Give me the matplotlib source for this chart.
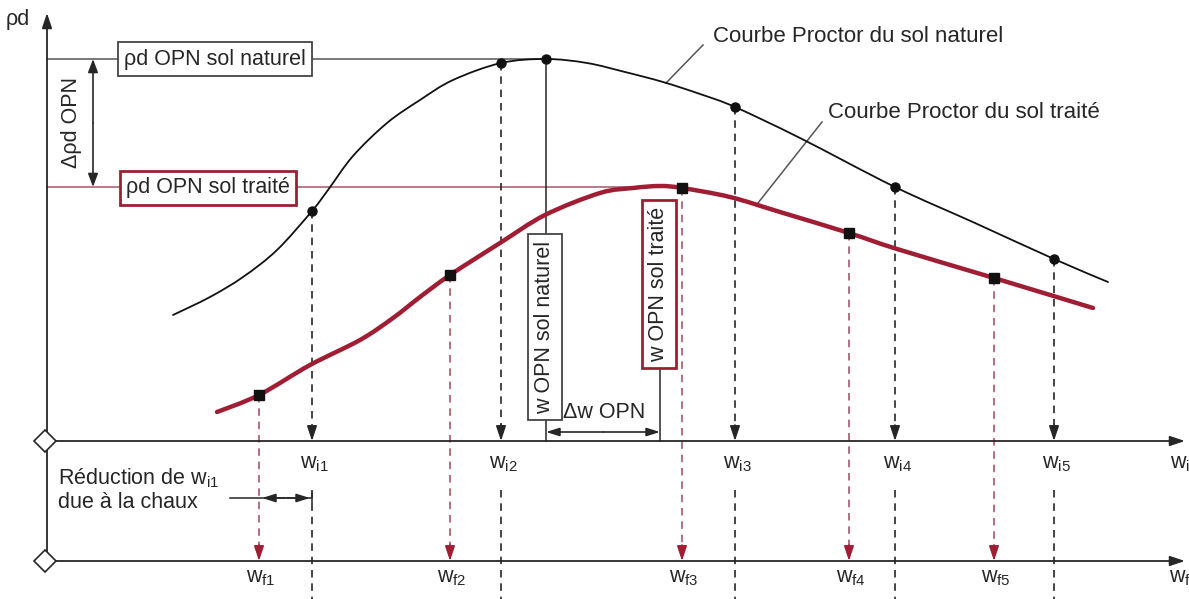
import matplotlib.pyplot as plt
from matplotlib.path import Path
from matplotlib.patches import PathPatch

plt.rcParams['font.family'] = ['Liberation Sans', 'DejaVu Sans']
plt.rcParams['mathtext.fontset'] = 'custom'
plt.rcParams['mathtext.rm'] = 'Liberation Sans'
plt.rcParams['mathtext.it'] = 'Liberation Sans:italic'

# courbe Proctor du sol naturel (w, rho_d) - unites schematiques
w_nat = [126, 163, 196, 230, 265, 281, 306, 340, 373, 406, 454, 499,
         540, 578, 616, 653, 688, 753, 848, 928, 1007, 1061]
rho_nat = [126, 144, 164, 191, 230, 251, 285, 318, 341, 361, 378, 382,
           378, 369, 359, 347, 334, 303, 254, 218, 182, 159]
# points d'essai du sol naturel
w_i = [265, 454, 688, 848, 1007]
rho_i = [230, 378, 334, 254, 182]
w_opn_nat, rho_opn_nat = 499, 382

# courbe Proctor du sol traite
w_trait = [170, 212, 263, 313, 346, 373, 403, 453, 498, 553, 586, 613, 635,
           683, 733, 802, 850, 947, 1046]
rho_trait = [29, 46, 76, 101, 123, 144, 166, 198, 226, 248, 253, 255, 253,
             244, 229, 208, 192, 163, 133]
# points d'essai du sol traite
w_f = [212, 403, 635, 802, 947]
rho_f = [46, 166, 253, 208, 163]
w_opn_trait, rho_opn_trait = 613, 254

labels_i = ['i1', 'i2', 'i3', 'i4', 'i5']
labels_f = ['f1', 'f2', 'f3', 'f4', 'f5']

RED = '#a01e34'
RED_LIGHT = '#a6566a'
INK = '#262626'
FS = 15.5
Y_WF = -120          # axe des w_f
W_END = 1138

fig = plt.figure(figsize=(11.89, 5.99), dpi=100)
ax = fig.add_axes([0, 0, 1, 1])
ax.set_xlim(-47, 1142)
ax.set_ylim(-158, 441)
ax.axis('off')


def arrow(x0, y0, x1, y1, color=INK, style='-|>', lw=1.2, hl=0.9, hw=0.3):
    ax.annotate('', xy=(x1, y1), xytext=(x0, y0),
                arrowprops=dict(arrowstyle='%s,head_length=%s,head_width=%s' % (style, hl, hw),
                                color=color, lw=lw, shrinkA=0, shrinkB=0))


def smooth_path(xs, ys):
    # courbe de Bezier passant par les points (Catmull-Rom)
    pts = list(zip(xs, ys))
    n = len(pts)
    verts = [pts[0]]
    codes = [Path.MOVETO]
    for i in range(n - 1):
        p0 = pts[max(i - 1, 0)]
        p1 = pts[i]
        p2 = pts[i + 1]
        p3 = pts[min(i + 2, n - 1)]
        c1 = (p1[0] + (p2[0] - p0[0]) / 6, p1[1] + (p2[1] - p0[1]) / 6)
        c2 = (p2[0] - (p3[0] - p1[0]) / 6, p2[1] - (p3[1] - p1[1]) / 6)
        verts += [c1, c2, p2]
        codes += [Path.CURVE4] * 3
    return Path(verts, codes)


# axes
arrow(0, Y_WF, 0, 428, lw=1.3)
for y0 in (0, Y_WF):
    arrow(0, y0, W_END, y0, lw=1.3)
    ax.plot(-2, y0, 'D', ms=11, mfc='white', mec=INK, mew=1.2, zorder=6)
ax.text(-29, 421, 'ρd', fontsize=FS, color=INK, ha='center', va='center')
ax.text(1133, -22, r'$\mathrm{w_i}$', fontsize=FS, color=INK, ha='center', va='center')
ax.text(1133, -137, r'$\mathrm{w_f}$', fontsize=FS, color=INK, ha='center', va='center')

# lignes de reference des optimums
ax.plot([0, w_opn_nat], [rho_opn_nat] * 2, color='#555555', lw=1.1, zorder=1)
ax.plot([0, 635], [rho_opn_trait] * 2, color=RED_LIGHT, lw=1.1, zorder=1)
box = dict(boxstyle='square,pad=0.3', fc='white', ec='#444444', lw=1.3)
box_red = dict(boxstyle='square,pad=0.3', fc='white', ec=RED, lw=2)
ax.text(168, rho_opn_nat, 'ρd OPN sol naturel', fontsize=FS, color=INK,
        ha='center', va='center', bbox=box, zorder=4)
ax.text(161, rho_opn_trait - 1, 'ρd OPN sol traité', fontsize=FS, color=INK,
        ha='center', va='center', bbox=box_red, zorder=4)

# ecart de densite
arrow(46, (rho_opn_nat + rho_opn_trait) / 2, 46, rho_opn_nat, hl=0.8, hw=0.3)
arrow(46, (rho_opn_nat + rho_opn_trait) / 2, 46, rho_opn_trait, hl=0.8, hw=0.3)
ax.text(25, (rho_opn_nat + rho_opn_trait) / 2, 'Δρd OPN', fontsize=FS, color=INK,
        rotation=90, ha='center', va='center')

# lignes de rappel vers les axes
for w, r, lab in zip(w_i, rho_i, labels_i):
    ax.plot([w, w], [r, 14], color=INK, lw=1.2, dashes=(4.5, 3.5), zorder=2)
    arrow(w, 16, w, 0, hl=0.9, hw=0.3)
    ax.plot([w, w], [-49, -160], color=INK, lw=1.2, dashes=(4.5, 3.5), zorder=2)
    ax.text(w + 2, -22, r'$\mathrm{w_{%s}}$' % lab, fontsize=FS, color=INK,
            ha='center', va='center')
for w, r, lab in zip(w_f, rho_f, labels_f):
    ax.plot([w, w], [r, Y_WF + 14], color=RED_LIGHT, lw=1.2, dashes=(4.5, 3.5), zorder=2)
    arrow(w, Y_WF + 16, w, Y_WF, color=RED, hl=0.9, hw=0.3)
    ax.text(w + 2, -137, r'$\mathrm{w_{%s}}$' % lab, fontsize=FS, color=INK,
            ha='center', va='center')

# teneurs en eau optimales
ax.plot([w_opn_nat] * 2, [rho_opn_nat, 0], color=INK, lw=1.1, zorder=2)
ax.plot([w_opn_trait] * 2, [71, 0], color=INK, lw=1.1, zorder=2)
ax.text(w_opn_nat - 1, 114, 'w OPN sol naturel', fontsize=FS, color=INK, rotation=90,
        ha='center', va='center', bbox=box, zorder=4)
ax.text(w_opn_trait - 1, 157, 'w OPN sol traité', fontsize=FS, color=INK, rotation=90,
        ha='center', va='center', bbox=box_red, zorder=4)
arrow((w_opn_nat + w_opn_trait) / 2, 9, w_opn_nat, 9, hl=0.8, hw=0.25)
arrow((w_opn_nat + w_opn_trait) / 2, 9, w_opn_trait, 9, hl=0.8, hw=0.25)
ax.text(557, 29, 'Δw OPN', fontsize=FS, color=INK, ha='center', va='center')

# courbes
ax.add_patch(PathPatch(smooth_path(w_nat, rho_nat), fc='none', ec='#111111',
                       lw=1.3, capstyle='round', zorder=3))
ax.add_patch(PathPatch(smooth_path(w_trait, rho_trait), fc='none', ec=RED,
                       lw=3.2, capstyle='round', zorder=3))
ax.plot(w_i + [w_opn_nat], rho_i + [rho_opn_nat], 'o', ms=6.5, color='#111111', zorder=5)
ax.plot(w_f, rho_f, 's', ms=7, color='#111111', zorder=5)

# legendes des courbes
ax.plot([656, 619], [396, 358], color='#555555', lw=1.1)
ax.text(666, 404, 'Courbe Proctor du sol naturel', fontsize=16, color=INK, ha='left', va='center')
ax.plot([775, 711], [319, 238], color='#555555', lw=1.1)
ax.text(781, 329, 'Courbe Proctor du sol traité', fontsize=16, color=INK, ha='left', va='center')

# reduction de w due a la chaux
ax.text(11, -37, r'Réduction de $\mathrm{w_{i1}}$', fontsize=FS, color=INK, ha='left', va='center')
ax.text(11, -61, 'due à la chaux', fontsize=FS, color=INK, ha='left', va='center')
ax.plot([183, w_i[0]], [-57, -57], color=INK, lw=1.1)
ax.plot([w_i[0]] * 2, [-52, -62], color=INK, lw=1.1)
arrow(238, -57, 215, -57, hl=0.8, hw=0.25)
arrow(240, -57, 263, -57, hl=0.8, hw=0.25)

fig.savefig('out.png', dpi=100)
